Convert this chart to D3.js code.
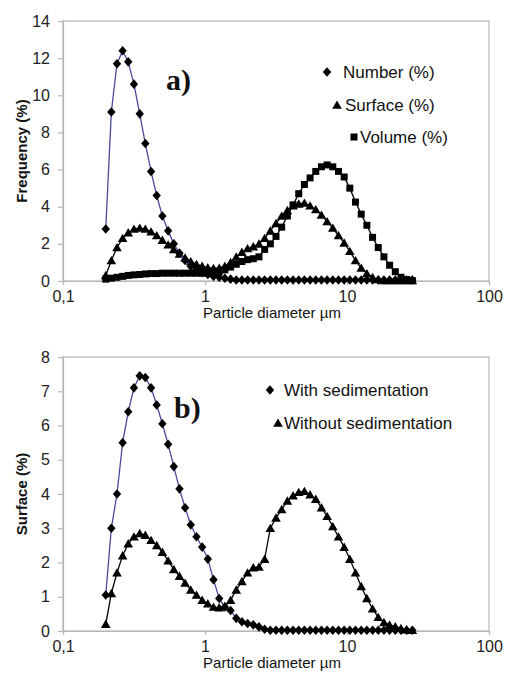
<!DOCTYPE html>
<html>
<head>
<meta charset="utf-8">
<script src="https://cdn.jsdelivr.net/npm/d3@7"></script>
<style>
  html, body { margin: 0; padding: 0; background: #fff; }
  svg { display: block; }
</style>
</head>
<body>
<svg id="chart" width="505" height="677"></svg>
<script>
// Particle diameters (µm) of the size classes
const sizes = [0.200,0.219,0.240,0.263,0.288,0.316,0.347,0.380,0.417,0.457,
               0.501,0.550,0.603,0.661,0.724,0.794,0.871,0.955,1.047,1.148,
               1.259,1.380,1.514,1.660,1.820,1.995,2.188,2.399,2.630,2.884,
               3.162,3.467,3.802,4.169,4.571,5.012,5.495,6.026,6.607,7.244,
               7.943,8.710,9.550,10.47,11.48,12.59,13.80,15.14,16.60,18.20,
               19.95,21.88,23.99,26.30,28.84];

// Panel a)
const numberPct = [2.8,9.1,11.7,12.4,11.8,10.6,9.0,7.4,5.9,4.6,
                   3.5,2.7,2.0,1.5,1.1,0.8,0.6,0.45,0.35,0.25,
                   0.2,0.15,0.1,0.05,0.05,0.05,0.05,0.05,0.05,0.05,
                   0.05,0.05,0.05,0.05,0.05,0.05,0.05,0.05,0.05,0.05,
                   0.05,0.05,0.05,0.05,0.05,0.05,0.05,0.05,0.05,0.05,
                   0.05,0.05,0.05,0.05,0.05];
const surfacePct = [0.3,1.1,1.8,2.3,2.6,2.8,2.85,2.8,2.65,2.45,
                    2.2,1.95,1.7,1.45,1.25,1.05,0.9,0.8,0.72,0.68,
                    0.7,0.8,1.0,1.3,1.55,1.75,1.85,2.0,2.3,2.7,
                    3.1,3.5,3.8,4.05,4.15,4.2,4.05,3.85,3.55,3.2,
                    2.85,2.45,2.05,1.6,1.1,0.7,0.4,0.2,0.08,0.03,
                    0.03,0.03,0.03,0.03,0.03];
const volumePct = [0.1,0.15,0.2,0.25,0.3,0.33,0.35,0.38,0.4,0.4,
                   0.42,0.42,0.42,0.42,0.42,0.42,0.42,0.42,0.42,0.44,
                   0.5,0.6,0.75,0.9,1.05,1.15,1.2,1.3,1.7,2.0,
                   2.4,2.9,3.5,4.1,4.7,5.2,5.55,5.9,6.15,6.25,
                   6.15,5.9,5.6,5.0,4.25,3.6,3.0,2.35,1.8,1.3,
                   0.85,0.5,0.2,0.08,0.02];

// Panel b)
const withSed = [1.05,3.0,4.0,5.5,6.4,7.1,7.45,7.4,7.1,6.6,
                 6.05,5.45,4.8,4.15,3.6,3.1,2.75,2.45,2.1,1.5,
                 0.95,0.7,0.6,0.37,0.27,0.22,0.18,0.12,0.05,0.02,
                 0.02,0.02,0.02,0.02,0.02,0.02,0.02,0.02,0.02,0.02,
                 0.02,0.02,0.02,0.02,0.02,0.02,0.02,0.02,0.02,0.02,
                 0.02,0.02,0.02,0.02,0.02];
const withoutSed = [0.2,1.1,1.7,2.2,2.55,2.75,2.85,2.8,2.65,2.5,
                    2.3,2.05,1.8,1.6,1.4,1.2,1.05,0.9,0.8,0.7,
                    0.68,0.72,0.9,1.2,1.45,1.7,1.85,1.87,2.1,3.0,
                    3.3,3.55,3.8,3.95,4.05,4.08,3.98,3.85,3.6,3.35,
                    3.05,2.75,2.45,2.1,1.7,1.3,0.95,0.65,0.4,0.25,
                    0.18,0.13,0.08,0.04,0.02];

const xTicks = [0.1, 1, 10, 100];
const xTickLabels = ["0,1", "1", "10", "100"];
const yTicksA = [0, 2, 4, 6, 8, 10, 12, 14];
const yTicksB = [0, 1, 2, 3, 4, 5, 6, 7, 8];

const svg = d3.select("#chart");
const FRAME = "#bdb5b0";
const BLUE = "#4a4a9e";
const SANS = "'Liberation Sans', Arial, sans-serif";
const SERIF = "'Liberation Serif', 'Times New Roman', serif";

const x = d3.scaleLog().domain([0.1, 100]).range([63, 489]);

// marker shapes (custom symbol types for d3.symbol)
const diamondType = { draw(ctx) { ctx.moveTo(0, -4.8); ctx.lineTo(4.2, 0); ctx.lineTo(0, 4.8); ctx.lineTo(-4.2, 0); ctx.closePath(); } };
const triangleType = { draw(ctx) { ctx.moveTo(0, -4.6); ctx.lineTo(4.8, 3.8); ctx.lineTo(-4.8, 3.8); ctx.closePath(); } };
const squareType = { draw(ctx) { ctx.rect(-3.5, -3.5, 7, 7); } };
const sym = {
  diamond: d3.symbol().type(diamondType),
  triangle: d3.symbol().type(triangleType),
  square: d3.symbol().type(squareType)
};

function panel(cfg) {
  const y = d3.scaleLinear().domain([0, cfg.yMax]).range([cfg.bottom, cfg.top]);
  const g = svg.append("g");

  // frame
  g.append("rect").attr("x", x.range()[0]).attr("y", cfg.top)
    .attr("width", x.range()[1] - x.range()[0]).attr("height", cfg.bottom - cfg.top)
    .attr("fill", "none").attr("stroke", FRAME).attr("stroke-width", 1.2);

  // x axis
  const xa = g.append("g").attr("transform", `translate(0,${cfg.bottom})`)
    .call(d3.axisBottom(x).tickValues(xTicks).tickFormat((d, i) => xTickLabels[i]).tickSize(4).tickPadding(6));
  // y axis
  const ya = g.append("g").attr("transform", `translate(${x.range()[0]},0)`)
    .call(d3.axisLeft(y).tickValues(cfg.yTicks).tickFormat(d3.format("d")).tickSize(5).tickPadding(8));
  [xa, ya].forEach(a => {
    a.select(".domain").attr("stroke", FRAME).attr("stroke-width", 1.2);
    a.selectAll(".tick line").attr("stroke", FRAME).attr("stroke-width", 1.2);
    a.selectAll(".tick text").attr("font-family", SANS).attr("font-size", 16).attr("fill", "#222");
  });

  // axis titles
  g.append("text").attr("x", 272).attr("y", cfg.bottom + 37)
    .attr("text-anchor", "middle").attr("font-family", SANS).attr("font-size", 15).attr("fill", "#111")
    .text("Particle diameter µm");
  g.append("text").attr("transform", `translate(27,${(cfg.top + cfg.bottom) / 2}) rotate(-90)`)
    .attr("text-anchor", "middle").attr("font-family", SANS).attr("font-size", 15)
    .attr("font-weight", "bold").attr("fill", "#111").text(cfg.yTitle);

  // panel letter
  g.append("text").attr("x", cfg.letterX).attr("y", cfg.letterY)
    .attr("font-family", SERIF).attr("font-size", 30).attr("font-weight", "bold").attr("fill", "#111")
    .text(cfg.letter);

  // series
  cfg.series.forEach(s => {
    const pts = sizes.map((d, i) => [d, s.values[i]]);
    g.append("path").datum(pts)
      .attr("fill", "none").attr("stroke", s.line).attr("stroke-width", 1.3)
      .attr("d", d3.line().x(d => x(d[0])).y(d => y(d[1])));
    g.append("g").selectAll("path").data(pts).join("path")
      .attr("transform", d => `translate(${x(d[0])},${y(d[1])})`)
      .attr("d", sym[s.marker]).attr("fill", "#000");
  });

  // legend
  cfg.legend.forEach(l => {
    g.append("path").attr("transform", `translate(${l.mx},${l.y})`)
      .attr("d", sym[l.marker]).attr("fill", "#000");
    g.append("text").attr("x", l.tx).attr("y", l.y).attr("dy", "0.35em")
      .attr("font-family", SANS).attr("font-size", 17).attr("fill", "#111").text(l.label);
  });
}

panel({
  top: 21, bottom: 281, yMax: 14, yTicks: yTicksA, yTitle: "Frequency (%)",
  letter: "a)", letterX: 166, letterY: 90,
  series: [
    { values: volumePct, marker: "square", line: "#000" },
    { values: surfacePct, marker: "triangle", line: "#000" },
    { values: numberPct, marker: "diamond", line: BLUE }
  ],
  legend: [
    { marker: "diamond", mx: 327, tx: 343, y: 72, label: "Number (%)" },
    { marker: "triangle", mx: 337, tx: 345, y: 105, label: "Surface (%)" },
    { marker: "square", mx: 354, tx: 360, y: 137, label: "Volume (%)" }
  ]
});

panel({
  top: 357, bottom: 631, yMax: 8, yTicks: yTicksB, yTitle: "Surface (%)",
  letter: "b)", letterX: 174, letterY: 418,
  series: [
    { values: withoutSed, marker: "triangle", line: "#000" },
    { values: withSed, marker: "diamond", line: BLUE }
  ],
  legend: [
    { marker: "diamond", mx: 270, tx: 284, y: 390, label: "With sedimentation" },
    { marker: "triangle", mx: 278, tx: 284, y: 423, label: "Without sedimentation" }
  ]
});
</script>
</body>
</html>
